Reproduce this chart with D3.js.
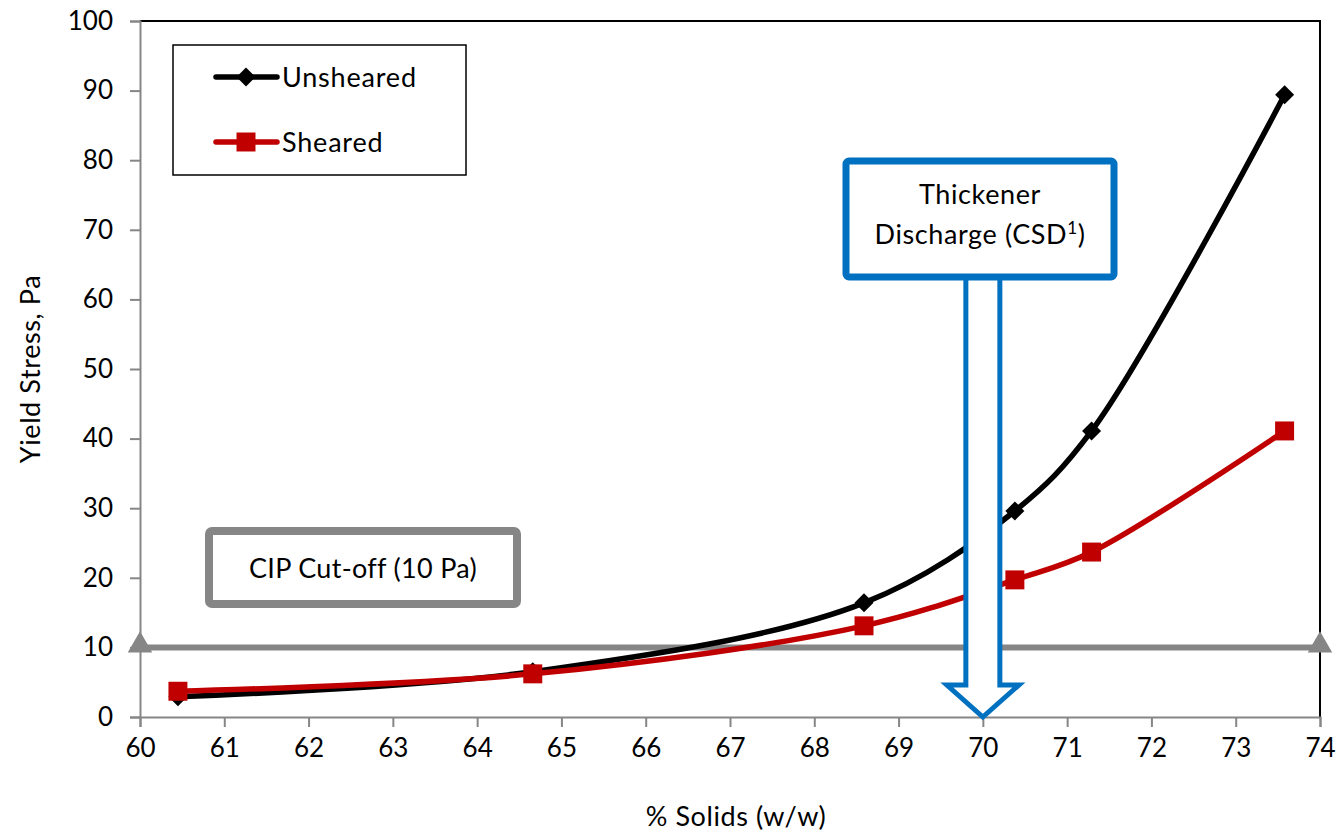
<!DOCTYPE html>
<html>
<head>
<meta charset="utf-8">
<script src="https://cdn.jsdelivr.net/npm/d3@7"></script>
<style>
  body { margin: 0; background: #fff; }
  text { font-family: Lato, "Open Sans", sans-serif; fill: #000; }
</style>
</head>
<body>
<svg id="chart" width="1340" height="832"></svg>
<script>
// values
var solids = [60.45, 64.66, 68.59, 70.38, 71.29, 73.58];
var unsheared = [2.9, 6.5, 16.4, 29.6, 41.1, 89.4];
var sheared = [3.7, 6.2, 13.1, 19.7, 23.7, 41.1];
var cutoffX = [60, 74];
var cutoffY = [10, 10];
var dischargeX = 70;
var xTicks = d3.range(60, 75, 1);
var yTicks = d3.range(0, 101, 10);

var svg = d3.select("#chart");
var plotL = 140, plotR = 1320, plotT = 21, plotB = 717;

var x = d3.scaleLinear().domain([60, 74]).range([plotL, plotR]);
var y = d3.scaleLinear().domain([0, 100]).range([plotB, plotT]);

// frame top + right
svg.append("path")
    .attr("d", "M" + plotL + "," + plotT + "H" + plotR + "V" + plotB)
    .attr("fill", "none")
    .attr("stroke", "#000")
    .attr("stroke-width", 2);

var xAxis = svg.append("g")
    .attr("transform", "translate(0," + plotB + ")")
    .call(d3.axisBottom(x).tickValues(xTicks).tickSize(10).tickPadding(12).tickFormat(d3.format("d")));
var yAxis = svg.append("g")
    .attr("transform", "translate(" + plotL + ",0)")
    .call(d3.axisLeft(y).tickValues(yTicks).tickSize(10).tickPadding(17).tickFormat(d3.format("d")));

[xAxis, yAxis].forEach(function(a){
    a.select(".domain").attr("stroke", "#868686").attr("stroke-width", 2);
    a.selectAll(".tick line").attr("stroke", "#868686").attr("stroke-width", 2);
    a.selectAll(".tick text").style("font-size", "26px").attr("fill", "#000");
});

svg.append("text")
    .attr("x", 736).attr("y", 826)
    .attr("text-anchor", "middle")
    .style("font-size", "27px")
    .style("letter-spacing", "0.6px")
    .text("% Solids (w/w)");

svg.append("text")
    .attr("transform", "translate(40,369) rotate(-90)")
    .attr("text-anchor", "middle")
    .style("font-size", "27px")
    .style("letter-spacing", "0.6px")
    .text("Yield Stress, Pa");

// CIP cut-off line
var flat = d3.line().x(function(d){ return x(d[0]); }).y(function(d){ return y(d[1]); });
var cutoff = d3.zip(cutoffX, cutoffY);
svg.append("path")
    .attr("d", flat(cutoff))
    .attr("fill", "none")
    .attr("stroke", "#868686")
    .attr("stroke-width", 6);
svg.selectAll(".tri")
    .data(cutoff)
    .enter().append("path")
    .attr("d", d3.symbol().type(d3.symbolTriangle).size(260))
    .attr("transform", function(d){ return "translate(" + x(d[0]) + "," + (y(d[1]) - 2) + ")"; })
    .attr("fill", "#868686");

// series
var smooth = d3.line()
    .x(function(d){ return x(d[0]); })
    .y(function(d){ return y(d[1]); })
    .curve(d3.curveCatmullRom.alpha(0.5));

var series = [
    {name: "Unsheared", values: unsheared, color: "#000000", symbol: d3.symbolDiamond2, size: 230},
    {name: "Sheared", values: sheared, color: "#C00000", symbol: d3.symbolSquare, size: 360}
];

series.forEach(function(s){
    var pts = d3.zip(solids, s.values);
    svg.append("path")
        .attr("d", smooth(pts))
        .attr("fill", "none")
        .attr("stroke", s.color)
        .attr("stroke-width", 5.5);
    svg.selectAll(null)
        .data(pts)
        .enter().append("path")
        .attr("d", d3.symbol().type(s.symbol).size(s.size))
        .attr("transform", function(d){ return "translate(" + x(d[0]) + "," + y(d[1]) + ")"; })
        .attr("fill", s.color);
});

// legend
var lg = svg.append("g");
lg.append("rect")
    .attr("x", 173).attr("y", 45).attr("width", 293).attr("height", 130)
    .attr("fill", "#fff").attr("stroke", "#000").attr("stroke-width", 1.5);
series.forEach(function(s, i){
    var ly = 77 + i * 65;
    lg.append("line")
        .attr("x1", 216).attr("x2", 277).attr("y1", ly).attr("y2", ly)
        .attr("stroke", s.color).attr("stroke-width", 5.5).attr("stroke-linecap", "round");
    lg.append("path")
        .attr("d", d3.symbol().type(s.symbol).size(s.size))
        .attr("transform", "translate(246," + ly + ")")
        .attr("fill", s.color);
    lg.append("text")
        .attr("x", 282).attr("y", ly + 10)
        .style("font-size", "27px")
        .style("letter-spacing", "0.8px")
        .text(s.name);
});

// CIP label box
svg.append("rect")
    .attr("x", 209).attr("y", 531).attr("width", 308).attr("height", 73).attr("rx", 3)
    .attr("fill", "#fff").attr("stroke", "#868686").attr("stroke-width", 8);
svg.append("text")
    .attr("x", 363).attr("y", 578)
    .attr("text-anchor", "middle")
    .style("font-size", "27px")
    .style("letter-spacing", "0.3px")
    .text("CIP Cut-off (10 Pa)");

// discharge arrow
var ax = x(dischargeX);
var arrow = "M" + (ax - 17) + ",280"
    + "V" + 685
    + "H" + (ax - 36)
    + "L" + ax + "," + y(0)
    + "L" + (ax + 36) + ",685"
    + "H" + (ax + 17)
    + "V280";
svg.append("path")
    .attr("d", arrow)
    .attr("fill", "#fff")
    .attr("stroke", "#0070C0")
    .attr("stroke-width", 5)
    .attr("stroke-linejoin", "miter");

svg.append("rect")
    .attr("x", 846).attr("y", 161).attr("width", 268).attr("height", 116).attr("rx", 3)
    .attr("fill", "#fff").attr("stroke", "#0070C0").attr("stroke-width", 7);
svg.append("text")
    .attr("x", 980).attr("y", 204)
    .attr("text-anchor", "middle")
    .style("font-size", "27px")
    .style("letter-spacing", "0.6px")
    .text("Thickener");
var t2 = svg.append("text")
    .attr("x", 980).attr("y", 244)
    .attr("text-anchor", "middle")
    .style("font-size", "27px")
    .style("letter-spacing", "0.6px");
t2.append("tspan").text("Discharge (CSD");
t2.append("tspan").attr("dy", -10).style("font-size", "17px").text("1");
t2.append("tspan").attr("dy", 10).text(")");
</script>
</body>
</html>
